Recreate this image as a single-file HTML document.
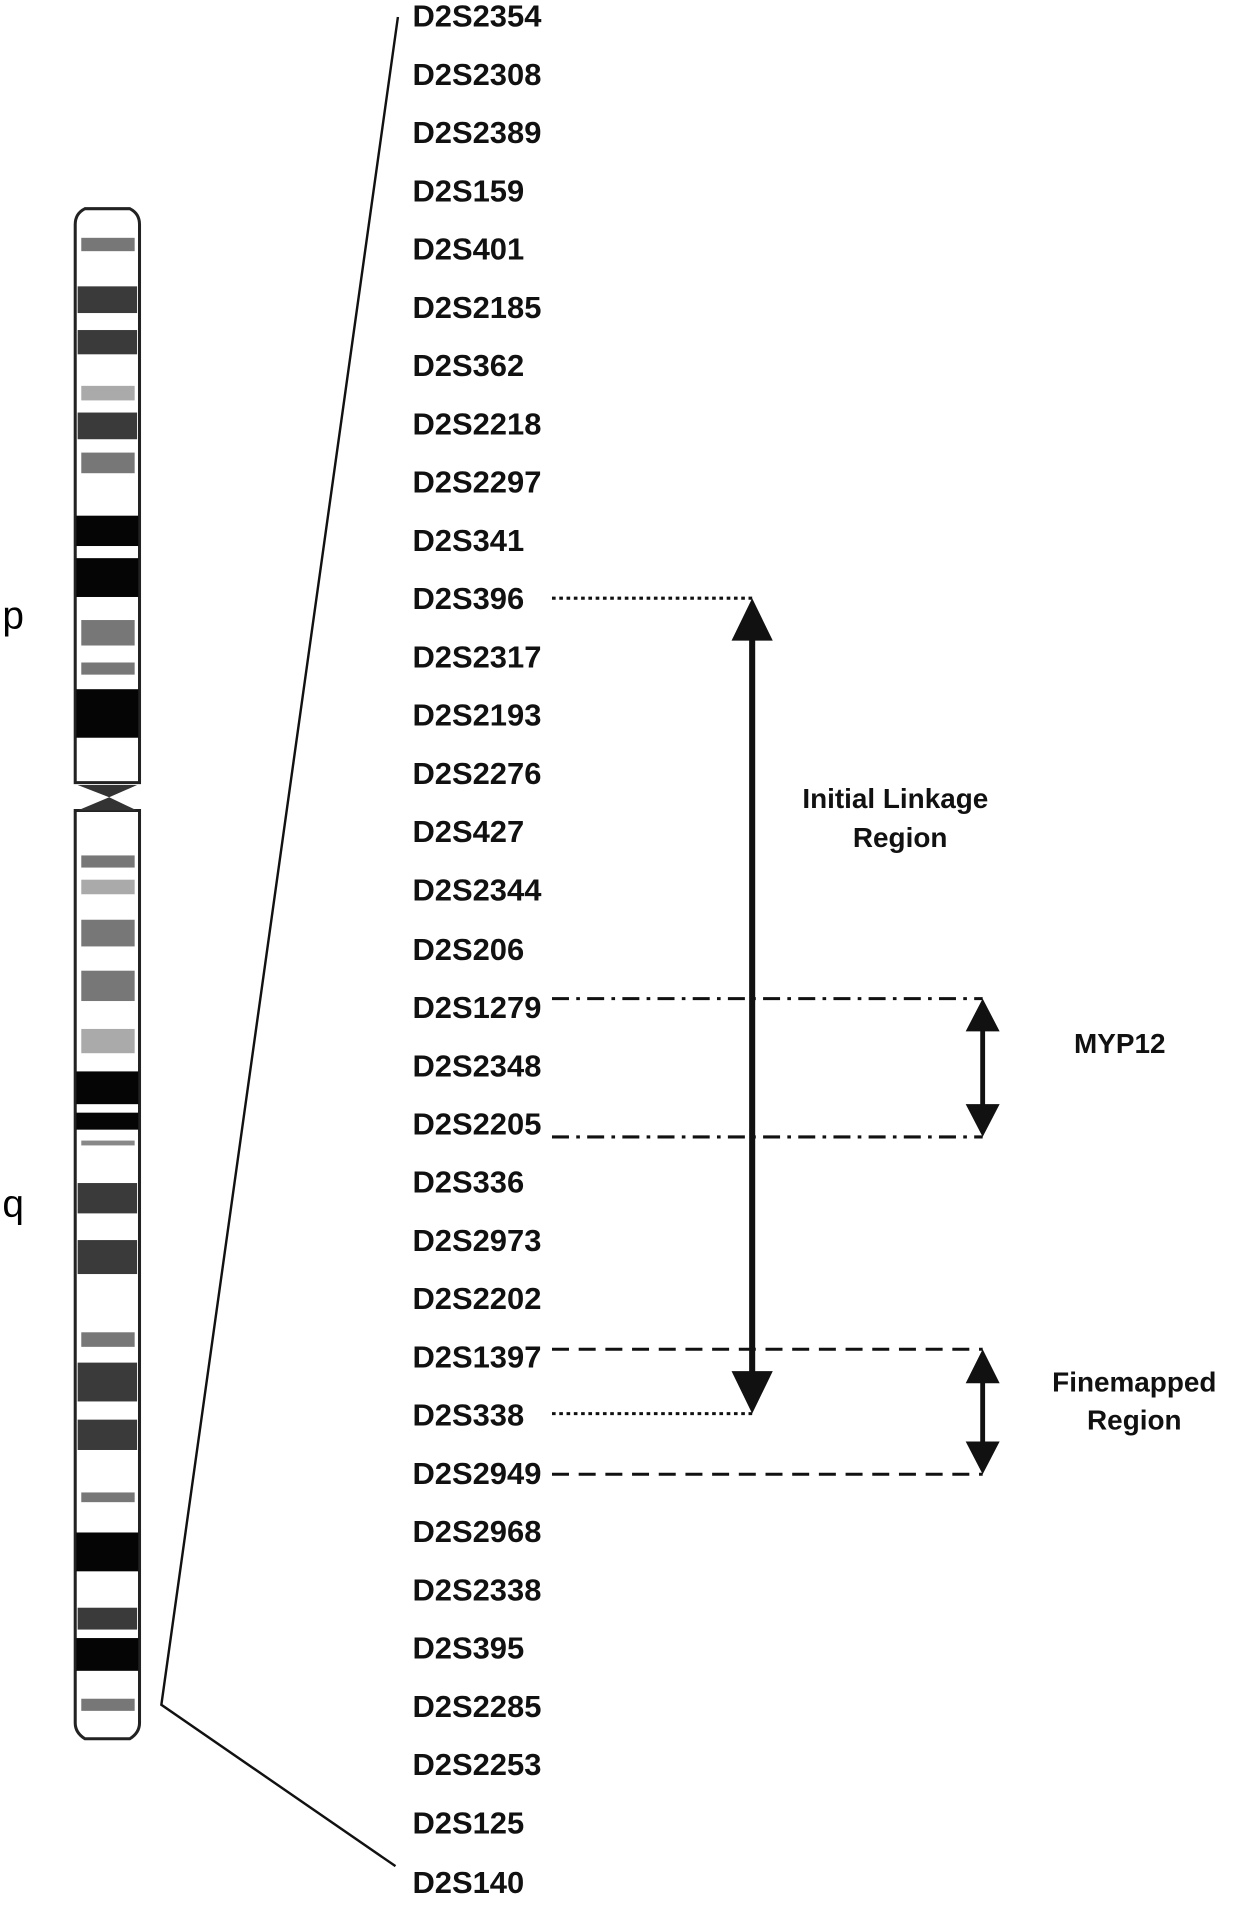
<!DOCTYPE html>
<html><head><style>html,body{margin:0;padding:0;background:#fff}svg{display:block}</style></head>
<body>
<svg width="1235" height="1905" viewBox="0 0 1018 1570" preserveAspectRatio="none" xmlns="http://www.w3.org/2000/svg">
<g font-family="Liberation Sans, Arial, sans-serif">
<path d="M62,645 L62,185 Q62,176 70,172 L107,172 Q115,176 115,185 L115,645 Z" fill="#fff" stroke="#222" stroke-width="2.5"/>
<path d="M62,668 L62,1420 Q62,1428 70,1433 L107,1433 Q115,1428 115,1420 L115,668 Z" fill="#fff" stroke="#222" stroke-width="2.5"/>
<path d="M64,647 L113,647 L90,657 Z M64,668 L113,668 L90,657 Z" fill="#333"/>
<g>
<rect x="67" y="196" width="44" height="11" fill="#777"/>
<rect x="64" y="236" width="49" height="22" fill="#3a3a3a"/>
<rect x="64" y="272" width="49" height="20" fill="#3a3a3a"/>
<rect x="67" y="318" width="44" height="12" fill="#aaa"/>
<rect x="64" y="340" width="49" height="22" fill="#3a3a3a"/>
<rect x="67" y="373" width="44" height="17" fill="#777"/>
<rect x="63" y="425" width="51" height="25" fill="#050505"/>
<rect x="63" y="460" width="51" height="32" fill="#050505"/>
<rect x="67" y="511" width="44" height="21" fill="#777"/>
<rect x="67" y="546" width="44" height="10" fill="#777"/>
<rect x="63" y="568" width="51" height="40" fill="#050505"/>
<rect x="67" y="705" width="44" height="10" fill="#777"/>
<rect x="67" y="725" width="44" height="12" fill="#aaa"/>
<rect x="67" y="758" width="44" height="22" fill="#777"/>
<rect x="67" y="800" width="44" height="25" fill="#777"/>
<rect x="67" y="848" width="44" height="20" fill="#aaa"/>
<rect x="63" y="883" width="51" height="27" fill="#050505"/>
<rect x="63" y="917" width="51" height="14" fill="#050505"/>
<rect x="67" y="940" width="44" height="4" fill="#888"/>
<rect x="64" y="975" width="49" height="25" fill="#3a3a3a"/>
<rect x="64" y="1022" width="49" height="28" fill="#3a3a3a"/>
<rect x="67" y="1098" width="44" height="12" fill="#777"/>
<rect x="64" y="1123" width="49" height="32" fill="#3a3a3a"/>
<rect x="64" y="1170" width="49" height="25" fill="#3a3a3a"/>
<rect x="67" y="1230" width="44" height="8" fill="#777"/>
<rect x="63" y="1263" width="51" height="32" fill="#050505"/>
<rect x="64" y="1325" width="49" height="18" fill="#3a3a3a"/>
<rect x="63" y="1350" width="51" height="27" fill="#050505"/>
<rect x="67" y="1400" width="44" height="10" fill="#777"/>
</g>
<text x="2" y="518" font-size="32">p</text>
<text x="2" y="1003" font-size="32">q</text>
<polyline points="328,14 133,1405 326,1538" fill="none" stroke="#111" stroke-width="2"/>
<g font-size="25.5" font-weight="bold" fill="#111">
<text x="340" y="22">D2S2354</text>
<text x="340" y="70">D2S2308</text>
<text x="340" y="118">D2S2389</text>
<text x="340" y="166">D2S159</text>
<text x="340" y="214">D2S401</text>
<text x="340" y="262">D2S2185</text>
<text x="340" y="310">D2S362</text>
<text x="340" y="358">D2S2218</text>
<text x="340" y="406">D2S2297</text>
<text x="340" y="454">D2S341</text>
<text x="340" y="502">D2S396</text>
<text x="340" y="550">D2S2317</text>
<text x="340" y="598">D2S2193</text>
<text x="340" y="646">D2S2276</text>
<text x="340" y="694">D2S427</text>
<text x="340" y="742">D2S2344</text>
<text x="340" y="791">D2S206</text>
<text x="340" y="839">D2S1279</text>
<text x="340" y="887">D2S2348</text>
<text x="340" y="935">D2S2205</text>
<text x="340" y="983">D2S336</text>
<text x="340" y="1031">D2S2973</text>
<text x="340" y="1079">D2S2202</text>
<text x="340" y="1127">D2S1397</text>
<text x="340" y="1175">D2S338</text>
<text x="340" y="1223">D2S2949</text>
<text x="340" y="1271">D2S2968</text>
<text x="340" y="1319">D2S2338</text>
<text x="340" y="1367">D2S395</text>
<text x="340" y="1415">D2S2285</text>
<text x="340" y="1463">D2S2253</text>
<text x="340" y="1511">D2S125</text>
<text x="340" y="1560">D2S140</text>
</g>
<g stroke="#111" stroke-width="2.5" fill="none">
<line x1="455" y1="493" x2="620" y2="493" stroke-dasharray="3,3"/>
<line x1="455" y1="1165" x2="620" y2="1165" stroke-dasharray="3,3"/>
<line x1="455" y1="823" x2="810" y2="823" stroke-dasharray="14,6,3,6"/>
<line x1="455" y1="937" x2="810" y2="937" stroke-dasharray="14,6,3,6"/>
<line x1="455" y1="1112" x2="810" y2="1112" stroke-dasharray="14,8"/>
<line x1="455" y1="1215" x2="810" y2="1215" stroke-dasharray="14,8"/>
<line x1="620" y1="520" x2="620" y2="1140" stroke-width="5"/>
<line x1="810" y1="845" x2="810" y2="915" stroke-width="4"/>
<line x1="810" y1="1135" x2="810" y2="1193" stroke-width="4"/>
</g>
<g fill="#111">
<polygon points="620,493 603,528 637,528"/>
<polygon points="620,1165 603,1130 637,1130"/>
<polygon points="810,823 796,850 824,850"/>
<polygon points="810,937 796,910 824,910"/>
<polygon points="810,1112 796,1140 824,1140"/>
<polygon points="810,1215 796,1188 824,1188"/>
</g>
<g font-size="23" font-weight="bold" fill="#111" text-anchor="middle">
<text x="738" y="666">Initial Linkage</text>
<text x="742" y="698">Region</text>
<text x="923" y="868">MYP12</text>
<text x="935" y="1147">Finemapped</text>
<text x="935" y="1178">Region</text>
</g>
</g>
</svg>
</body></html>
